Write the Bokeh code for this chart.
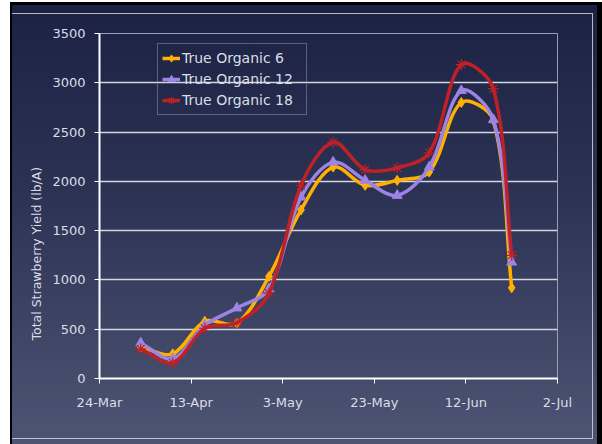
from datetime import datetime
import numpy as np
from bokeh.plotting import figure
from bokeh.models import (FixedTicker, DatetimeTickFormatter, Range1d, Legend, LegendItem,
                          Title, InlineStyleSheet, ColumnDataSource)
from bokeh.embed import file_html
from bokeh.resources import INLINE

# ---- data ----
dates = ["2008-04-02", "2008-04-09", "2008-04-16", "2008-04-23", "2008-04-30", "2008-05-07",
         "2008-05-14", "2008-05-21", "2008-05-28", "2008-06-04", "2008-06-11", "2008-06-18",
         "2008-06-22"]
organic_6 = [320, 250, 580, 560, 1035, 1710, 2145, 1960, 2010, 2095, 2800, 2620, 920]
organic_12 = [360, 200, 540, 715, 910, 1840, 2195, 2010, 1857, 2145, 2920, 2625, 1180]
organic_18 = [300, 160, 510, 565, 866, 1958, 2397, 2120, 2137, 2290, 3185, 2940, 1250]
series_names = ["True Organic 6", "True Organic 12", "True Organic 18"]
tick_dates = ["2008-03-24", "2008-04-13", "2008-05-03", "2008-05-23", "2008-06-12", "2008-07-02"]
y_ticks = [0, 500, 1000, 1500, 2000, 2500, 3000, 3500]
y_title = "Total Strawberry Yield (lb/A)"

colors = ["#FFB000", "#9C84E4", "#BF2127"]
markers = ["diamond", "triangle", "asterisk"]

W, H = 602, 444
ML, MT, MR, MB = 99, 33, 45, 66

def ms(d):
    return datetime.strptime(d, "%Y-%m-%d").timestamp() * 1000.0

xs = np.array([ms(d) for d in dates])
xticks = [ms(d) for d in tick_dates]

TEXT = "#DCDDE6"
FONT = "DejaVu Sans"

p = figure(width=W, height=H, output_backend="svg", toolbar_location=None,
           x_axis_type="datetime",
           x_range=Range1d(xticks[0], xticks[-1]), y_range=Range1d(y_ticks[0], y_ticks[-1]),
           min_border_left=ML, min_border_top=MT, min_border_right=MR, min_border_bottom=MB)
p.background_fill_alpha = 0
p.border_fill_alpha = 0
p.outline_line_color = "#9A9EB2"
p.outline_line_width = 1

p.stylesheets = [InlineStyleSheet(css="""
:host {
  position: relative;
  background:
    linear-gradient(#fff, #fff) left top / 10px 100% no-repeat,
    linear-gradient(#fff, #fff) left top / 100% 2px no-repeat,
    linear-gradient(180deg, #1a2143 0%, #2c3354 45%, #4d5474 100%);
}
:host::before {
  content: "";
  position: absolute;
  left: 10px; top: 2px; right: 0px; bottom: 0px;
  border-left: 2px solid #000;
  border-top: 3px solid #000;
  border-right: 5px solid #000;
  pointer-events: none;
}
:host::after {
  content: "";
  position: absolute;
  left: 12px; top: 13px; width: 580px; height: 424px;
  border-top: 1px solid rgba(220,222,235,0.8);
  border-right: 1px solid rgba(220,222,235,0.8);
  border-bottom: 1px solid rgba(220,222,235,0.8);
  pointer-events: none;
}
""")]

# axes
p.xaxis.ticker = FixedTicker(ticks=xticks)
fmt = "%-d-%b"
p.xaxis.formatter = DatetimeTickFormatter(days=fmt, months=fmt, years=fmt, hours=fmt,
                                          minutes=fmt, seconds=fmt, milliseconds=fmt,
                                          microseconds=fmt)
p.yaxis.ticker = FixedTicker(ticks=y_ticks)
for ax in (p.xaxis, p.yaxis):
    ax.axis_line_color = "#FFFFFF"
    ax.axis_line_width = 2
    ax.major_tick_line_color = "#FFFFFF"
    ax.major_tick_out = 5
    ax.major_tick_in = 0
    ax.minor_tick_line_color = None
    ax.major_label_text_color = TEXT
    ax.major_label_text_font = FONT
    ax.major_label_text_font_size = "13px"
p.yaxis.major_label_standoff = 9
p.xaxis.major_label_standoff = 11

p.xgrid.grid_line_color = None
p.ygrid.grid_line_color = "#D4D6E0"
p.ygrid.grid_line_width = 1.5

# pixel scales (used only to shape the smoothing like Excel does, in screen space)
kx = (W - ML - MR) / (xticks[-1] - xticks[0])
ky = (H - MT - MB) / (y_ticks[-1] - y_ticks[0])

items = []
for name, vals, col, mk in zip(series_names, [organic_6, organic_12, organic_18], colors, markers):
    ys = np.array(vals, dtype=float)
    n = len(xs)
    px, py = xs * kx, ys * ky

    def ctrl(i, j, k, sign):
        d_near = np.hypot(px[k if sign > 0 else i] - px[j], py[k if sign > 0 else i] - py[j])
        d_a = np.hypot(px[j] - px[i], py[j] - py[i])
        d_b = np.hypot(px[k] - px[j], py[k] - py[j])
        tot = d_a + d_b
        f = (d_near / tot) / 3.0 if tot > 0 else 0.0
        return (px[j] + sign * (px[k] - px[i]) * f) / kx, (py[j] + sign * (py[k] - py[i]) * f) / ky

    x0, y0, x1, y1, cx0, cy0, cx1, cy1 = [], [], [], [], [], [], [], []
    for i in range(n - 1):
        a = max(i - 1, 0)
        d = min(i + 2, n - 1)
        c0 = ctrl(a, i, i + 1, +1)
        c1 = ctrl(i, i + 1, d, -1)
        x0.append(xs[i]); y0.append(ys[i]); x1.append(xs[i + 1]); y1.append(ys[i + 1])
        cx0.append(c0[0]); cy0.append(c0[1]); cx1.append(c1[0]); cy1.append(c1[1])
    src = ColumnDataSource(dict(x0=x0, y0=y0, x1=x1, y1=y1, cx0=cx0, cy0=cy0, cx1=cx1, cy1=cy1))
    rb = p.bezier(x0="x0", y0="y0", x1="x1", y1="y1", cx0="cx0", cy0="cy0", cx1="cx1", cy1="cy1",
                  source=src, line_color=col, line_width=3.5)
    if mk == "asterisk":
        rs = p.scatter(xs, ys, marker=mk, size=11, line_color=col, line_width=1.2, fill_color=col)
    else:
        rs = p.scatter(xs, ys, marker=mk, size=10, line_color=col, fill_color=col)
    items.append(LegendItem(label=name, renderers=[rb, rs]))

legend = Legend(items=items, location=(58, 263))
legend.background_fill_alpha = 0
legend.border_line_color = "#9A9AAA"
legend.border_line_width = 1
legend.label_text_color = TEXT
legend.label_text_font = FONT
legend.label_text_font_size = "14px"
legend.glyph_width = 18
legend.glyph_height = 20
legend.label_height = 20
legend.label_width = 120
legend.label_standoff = 2
legend.spacing = 1
legend.padding = 4
legend.margin = 0
p.add_layout(legend)

p.add_layout(Title(text=y_title, align="left", offset=38, standoff=12,
                   text_color=TEXT, text_font=FONT, text_font_size="12.5px",
                   text_font_style="normal"), "left")

open("out.html", "w").write(file_html(p, INLINE))
